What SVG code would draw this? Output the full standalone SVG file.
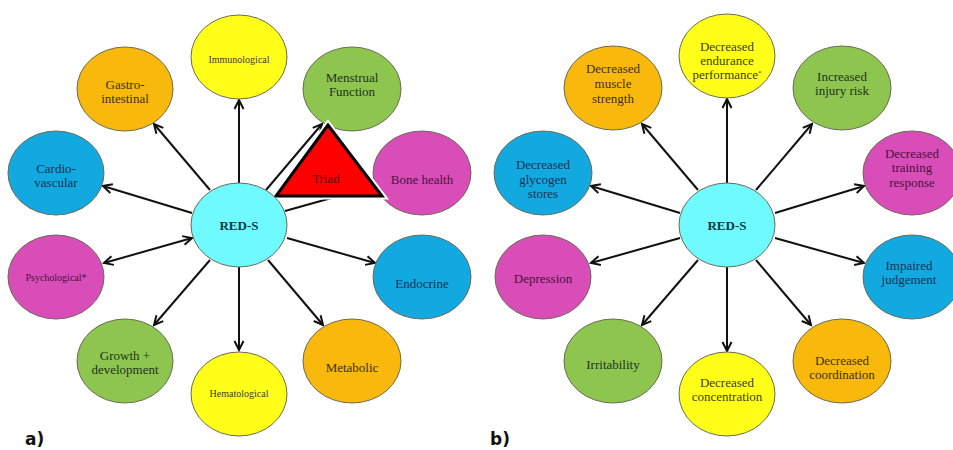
<svg xmlns="http://www.w3.org/2000/svg" width="953" height="450" viewBox="0 0 953 450">
<style>
.bg{fill:#ffffff}
.n{stroke:#6b6b55;stroke-width:1}
.y{fill:#FFFF1A}.o{fill:#F8B90C}.g{fill:#8DC54F}.b{fill:#12A8E0}.m{fill:#D94DB8}.c{fill:#6FFAFF}
text.t{font-family:'Liberation Serif','DejaVu Serif',serif;text-anchor:middle;font-size:13px}
.ty{fill:#3d3d12}.to{fill:#3d3010}.tg{fill:#223320}.tb{fill:#163350}.tm{fill:#4a1240}.tc{fill:#0d3a40}
text.s{font-size:10px}
.conn line{stroke:#111;stroke-width:2;fill:none}
.lab{font-family:'DejaVu Sans',Verdana,sans-serif;font-weight:bold;font-size:17px;fill:#111}
</style>
<defs>
<marker id="ah" markerUnits="userSpaceOnUse" markerWidth="12" markerHeight="12" refX="10" refY="6" orient="auto-start-reverse">
<path d="M1,1.5 L10,6 L1,10.5" fill="none" stroke="#111" stroke-width="2"/>
</marker>
</defs>
<rect class="bg" x="0" y="0" width="953" height="450"/>

<g id="connectors">
<g class="conn">
<line x1="239" y1="183" x2="239" y2="100" marker-end="url(#ah)"/>
<line x1="210" y1="190" x2="154" y2="124" marker-end="url(#ah)"/>
<line x1="192" y1="213" x2="103" y2="186" marker-end="url(#ah)"/>
<line x1="266" y1="190" x2="322" y2="124" marker-end="url(#ah)"/>
<line x1="285" y1="211" x2="335" y2="197"/>
<line x1="192" y1="238" x2="104" y2="263" marker-start="url(#ah)" marker-end="url(#ah)"/>
<line x1="287" y1="238" x2="375" y2="263" marker-end="url(#ah)"/>
<line x1="210" y1="260" x2="154" y2="325" marker-end="url(#ah)"/>
<line x1="239" y1="267" x2="239" y2="350" marker-end="url(#ah)"/>
<line x1="268" y1="260" x2="323" y2="325" marker-end="url(#ah)"/>

<line x1="727" y1="183" x2="727" y2="99" marker-end="url(#ah)"/>
<line x1="698" y1="190" x2="642" y2="124" marker-end="url(#ah)"/>
<line x1="756" y1="190" x2="812" y2="124" marker-end="url(#ah)"/>
<line x1="680" y1="213" x2="591" y2="186" marker-end="url(#ah)"/>
<line x1="775" y1="213" x2="864" y2="186" marker-end="url(#ah)"/>
<line x1="680" y1="238" x2="591" y2="263" marker-end="url(#ah)"/>
<line x1="775" y1="238" x2="864" y2="263" marker-end="url(#ah)"/>
<line x1="698" y1="260" x2="642" y2="325" marker-end="url(#ah)"/>
<line x1="727" y1="267" x2="727" y2="351" marker-end="url(#ah)"/>
<line x1="756" y1="260" x2="811" y2="325" marker-end="url(#ah)"/>
</g>
</g>

<!-- Panel a -->
<g id="a-immuno"><ellipse class="n y" cx="239" cy="57" rx="48" ry="42"/><text class="t ty s" x="239" y="63">Immunological</text></g>
<g id="a-gastro"><ellipse class="n o" cx="125" cy="89" rx="48" ry="42"/><text class="t to" x="125" y="89">Gastro-</text><text class="t to" x="125" y="103">intestinal</text></g>
<g id="a-menstrual"><ellipse class="n g" cx="352" cy="89" rx="49" ry="42"/><text class="t tg" x="352" y="82">Menstrual</text><text class="t tg" x="352" y="96">Function</text></g>
<g id="a-cardio"><ellipse class="n b" cx="56" cy="173" rx="48" ry="42"/><text class="t tb" x="56" y="173">Cardio-</text><text class="t tb" x="56" y="187">vascular</text></g>
<g id="a-bone"><ellipse class="n m" cx="422" cy="173" rx="49" ry="42"/><text class="t tm" x="422" y="184">Bone health</text></g>
<g id="a-psych"><ellipse class="n m" cx="56" cy="277" rx="48" ry="42"/><text class="t tm s" x="56" y="281">Psychological*</text></g>
<g id="a-endo"><ellipse class="n b" cx="422" cy="277" rx="49" ry="42"/><text class="t tb" x="422" y="288">Endocrine</text></g>
<g id="a-growth"><ellipse class="n g" cx="125" cy="361" rx="48" ry="42"/><text class="t tg" font-size="12" x="125" y="360">Growth +</text><text class="t tg" font-size="12" x="125" y="374">development</text></g>
<g id="a-hemat"><ellipse class="n y" cx="239" cy="394" rx="48" ry="42"/><text class="t ty s" x="239" y="397">Hematological</text></g>
<g id="a-metab"><ellipse class="n o" cx="352" cy="361" rx="49" ry="42"/><text class="t to" x="352" y="372">Metabolic</text></g>
<g id="a-triad">
<polygon points="328,125 276,196 382,196" fill="none" stroke="#ffffff" stroke-width="7" stroke-linejoin="miter"/>
<polygon points="328,125 276,196 382,196" fill="#FF0000" stroke="#000" stroke-width="3" stroke-linejoin="miter"/>
<text class="t" x="326" y="183" fill="#5a0a0a">Triad</text>
</g>
<g id="a-reds"><ellipse class="n c" cx="239" cy="225" rx="48" ry="42"/><text class="t tc" x="239" y="230" font-weight="bold">RED-S</text></g>

<!-- Panel b -->
<g id="b-endur"><ellipse class="n y" cx="727" cy="56" rx="48" ry="42"/><text class="t ty" font-size="12" x="727" y="51">Decreased</text><text class="t ty" font-size="12" x="727" y="65">endurance</text><text class="t ty" font-size="12" x="727" y="79">performance<tspan font-size="7" dy="-4">*</tspan></text></g>
<g id="b-muscle"><ellipse class="n o" cx="613" cy="88" rx="49" ry="42"/><text class="t to" x="613" y="73">Decreased</text><text class="t to" x="613" y="88">muscle</text><text class="t to" x="613" y="103">strength</text></g>
<g id="b-injury"><ellipse class="n g" cx="842" cy="88" rx="49" ry="42"/><text class="t tg" x="842" y="81">Increased</text><text class="t tg" x="842" y="95">injury risk</text></g>
<g id="b-glyco"><ellipse class="n b" cx="543" cy="173" rx="49" ry="42"/><text class="t tb" x="543" y="169">Decreased</text><text class="t tb" x="543" y="184">glycogen</text><text class="t tb" x="543" y="198">stores</text></g>
<g id="b-training"><ellipse class="n m" cx="912" cy="173" rx="49" ry="42"/><text class="t tm" x="912" y="158">Decreased</text><text class="t tm" x="912" y="172">training</text><text class="t tm" x="912" y="187">response</text></g>
<g id="b-depress"><ellipse class="n m" cx="543" cy="277" rx="48" ry="42"/><text class="t tm" x="543" y="283">Depression</text></g>
<g id="b-judge"><ellipse class="n b" cx="912" cy="277" rx="49" ry="42"/><text class="t tb" x="909" y="270">Impaired</text><text class="t tb" x="909" y="284">judgement</text></g>
<g id="b-irrit"><ellipse class="n g" cx="613" cy="361" rx="49" ry="42"/><text class="t tg" x="613" y="369">Irritability</text></g>
<g id="b-concen"><ellipse class="n y" cx="727" cy="394" rx="48" ry="42"/><text class="t ty" font-size="11" x="727" y="387">Decreased</text><text class="t ty" font-size="11" x="727" y="401">concentration</text></g>
<g id="b-coord"><ellipse class="n o" cx="842" cy="361" rx="49" ry="42"/><text class="t to" font-size="12" x="842" y="365">Decreased</text><text class="t to" font-size="12" x="842" y="379">coordination</text></g>
<g id="b-reds"><ellipse class="n c" cx="727" cy="225" rx="48" ry="42"/><text class="t tc" x="727" y="230" font-weight="bold">RED-S</text></g>

<text class="lab" x="25" y="445">a)</text>
<text class="lab" x="490" y="445">b)</text>
</svg>
